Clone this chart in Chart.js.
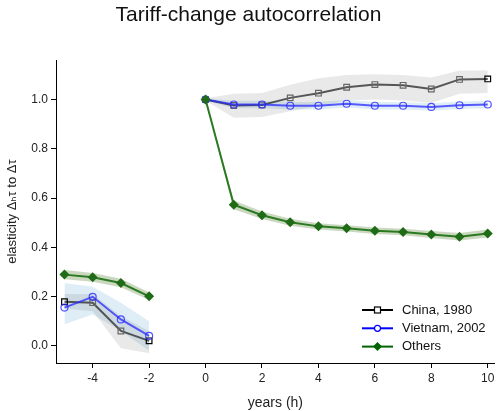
<!DOCTYPE html>
<html>
<head>
<meta charset="utf-8">
<script src="https://cdn.jsdelivr.net/npm/chart.js@4"></script>
<style>
  html, body { margin: 0; padding: 0; background: #fff; }
  #wrap { width: 500px; height: 411px; }
</style>
</head>
<body>
<div id="wrap"><canvas id="acChart"></canvas></div>
<script>
// years relative to the tariff change (null row at -1 splits the lines)
const years = [-5, -4, -3, -2, -1, 0, 1, 2, 3, 4, 5, 6, 7, 8, 9, 10];

const china     = [0.179, 0.175, 0.06, 0.02, null, 1.0, 0.976, 0.978, 1.007, 1.026, 1.05, 1.061, 1.058, 1.043, 1.082, 1.084];
const chinaLow  = [0.15, 0.14, -0.01, -0.03, null, 0.995, 0.926, 0.929, 0.953, 0.973, 0.996, 1.0, 0.996, 0.986, 1.024, 1.027];
const chinaHigh = [0.21, 0.21, 0.12, 0.06, null, 1.005, 1.024, 1.027, 1.06, 1.087, 1.1, 1.103, 1.1, 1.09, 1.118, 1.118];

const vietnam     = [0.155, 0.199, 0.107, 0.04, null, 1.0, 0.98, 0.98, 0.975, 0.975, 0.983, 0.975, 0.975, 0.97, 0.977, 0.98];
const vietnamLow  = [0.087, 0.127, 0.06, -0.02, null, 0.995, 0.965, 0.965, 0.96, 0.96, 0.968, 0.96, 0.96, 0.955, 0.962, 0.965];
const vietnamHigh = [0.255, 0.24, 0.175, 0.1, null, 1.005, 0.995, 0.995, 0.99, 0.99, 0.998, 0.99, 0.99, 0.985, 0.992, 0.995];

const others     = [0.289, 0.278, 0.255, 0.201, null, 1.0, 0.573, 0.53, 0.502, 0.485, 0.477, 0.467, 0.462, 0.452, 0.443, 0.456];
const othersLow  = [0.27, 0.26, 0.238, 0.186, null, 0.995, 0.555, 0.515, 0.488, 0.472, 0.464, 0.454, 0.449, 0.438, 0.428, 0.44];
const othersHigh = [0.308, 0.296, 0.272, 0.216, null, 1.005, 0.59, 0.545, 0.516, 0.498, 0.49, 0.48, 0.475, 0.466, 0.458, 0.472];

const xTicks = [-4, -2, 0, 2, 4, 6, 8, 10];
const yTicks = [0, 0.2, 0.4, 0.6, 0.8, 1.0];

const legendItems = [
  { label: "China, 1980", color: "#000000", style: "square" },
  { label: "Vietnam, 2002", color: "#0000ff", style: "circle" },
  { label: "Others", color: "#006400", style: "diamond" },
];

const FONT = "Arial, 'Liberation Sans', sans-serif";

function toPoints(arr) {
  return years.map((x, i) => ({ x: x, y: arr[i] }));
}

// shaded band: lower edge + upper edge filled to it
function band(low, high, fillColor) {
  return [
    { data: toPoints(low), pointRadius: 0, borderWidth: 0, fill: false, order: 10 },
    { data: toPoints(high), pointRadius: 0, borderWidth: 0, fill: "-1", backgroundColor: fillColor, order: 10 },
  ];
}

// draws the legend inside the plot, bottom right
const insideLegend = {
  id: "insideLegend",
  afterDraw(chart) {
    const ctx = chart.ctx;
    const x0 = 362, x1 = 393;
    let y = 310;
    ctx.save();
    ctx.font = "13px " + FONT;
    ctx.textBaseline = "middle";
    legendItems.forEach((it) => {
      const mx = (x0 + x1) / 2;
      ctx.strokeStyle = it.color;
      ctx.lineWidth = 2;
      ctx.beginPath();
      ctx.moveTo(x0, y);
      ctx.lineTo(x1, y);
      ctx.stroke();
      ctx.lineWidth = 1.2;
      if (it.style === "square") {
        ctx.fillStyle = "#fff";
        ctx.fillRect(mx - 3, y - 3, 6, 6);
        ctx.strokeRect(mx - 3, y - 3, 6, 6);
      } else if (it.style === "circle") {
        ctx.fillStyle = "#fff";
        ctx.beginPath();
        ctx.arc(mx, y, 3, 0, Math.PI * 2);
        ctx.fill();
        ctx.stroke();
      } else {
        ctx.fillStyle = it.color;
        ctx.beginPath();
        ctx.moveTo(mx, y - 4.5);
        ctx.lineTo(mx + 4.5, y);
        ctx.lineTo(mx, y + 4.5);
        ctx.lineTo(mx - 4.5, y);
        ctx.closePath();
        ctx.fill();
      }
      ctx.fillStyle = "#111";
      ctx.fillText(it.label, 402, y);
      y += 18.3;
    });
    ctx.restore();
  },
};

const chinaEnds = (c) => (c.dataIndex === 0 || c.dataIndex === 3 || c.dataIndex === 15 ? "#000" : "#666");

const ctx = document.getElementById("acChart").getContext("2d");
new Chart(ctx, {
  type: "line",
  data: {
    datasets: [
      ...band(chinaLow, chinaHigh, "rgba(0,0,0,0.085)"),
      ...band(vietnamLow, vietnamHigh, "rgba(150,200,225,0.3)"),
      ...band(othersLow, othersHigh, "rgba(60,110,20,0.27)"),
      {
        label: "China, 1980",
        data: toPoints(china),
        borderColor: "rgba(60,60,60,0.85)",
        borderWidth: 2,
        pointStyle: "rect",
        pointRadius: 4,
        pointBorderWidth: 1.2,
        pointBorderColor: chinaEnds,
        pointBackgroundColor: "rgba(255,255,255,0)",
        spanGaps: false,
        order: 3,
      },
      {
        label: "Vietnam, 2002",
        data: toPoints(vietnam),
        borderColor: "rgba(40,40,255,0.75)",
        borderWidth: 2,
        pointStyle: "circle",
        pointRadius: 3.5,
        pointBorderWidth: 1.2,
        pointBorderColor: "rgba(40,40,255,0.8)",
        pointBackgroundColor: "rgba(255,255,255,0)",
        spanGaps: false,
        order: 2,
      },
      {
        label: "Others",
        data: toPoints(others),
        borderColor: "#2b7a22",
        borderWidth: 2,
        pointStyle: "rectRot",
        pointRadius: 5,
        pointBorderWidth: 0,
        pointBackgroundColor: "#1f6b17",
        spanGaps: false,
        order: 1,
      },
    ],
  },
  options: {
    responsive: true,
    maintainAspectRatio: false,
    animation: false,
    layout: { padding: { left: 0, right: 3, top: 0, bottom: 0 } },
    plugins: {
      legend: { display: false },
      tooltip: { enabled: false },
      title: {
        display: true,
        text: "Tariff-change autocorrelation",
        color: "#111",
        font: { family: FONT, size: 21, weight: "normal" },
        padding: { top: 3, bottom: 32 },
      },
    },
    scales: {
      x: {
        type: "linear",
        min: -5.3,
        max: 10.25,
        afterBuildTicks: (axis) => { axis.ticks = xTicks.map((v) => ({ value: v })); },
        afterFit: (axis) => { axis.height = 48; },
        grid: { drawOnChartArea: false, tickLength: 5, color: "#000" },
        border: { display: true, color: "#000", width: 1 },
        ticks: { color: "#222", font: { family: FONT, size: 12 }, padding: 3, maxRotation: 0 },
        title: {
          display: true,
          text: "years (h)",
          color: "#222",
          font: { family: FONT, size: 14 },
          padding: { top: 8, bottom: -1 },
        },
      },
      y: {
        min: -0.07,
        max: 1.16,
        afterBuildTicks: (axis) => { axis.ticks = yTicks.map((v) => ({ value: v })); },
        afterFit: (axis) => { axis.width = 56; },
        grid: { drawOnChartArea: false, tickLength: 5, color: "#000" },
        border: { display: true, color: "#000", width: 1 },
        ticks: {
          color: "#222",
          font: { family: FONT, size: 12 },
          padding: 3,
          callback: (v) => v.toFixed(1),
        },
        title: {
          display: true,
          text: "elasticity \u0394\u2095\u03c4 to \u0394\u03c4",
          color: "#222",
          font: { family: "Arial, 'Liberation Sans', 'DejaVu Sans', sans-serif", size: 13 },
          padding: { top: 5, bottom: 2 },
        },
      },
    },
  },
  plugins: [insideLegend],
});
</script>
</body>
</html>
